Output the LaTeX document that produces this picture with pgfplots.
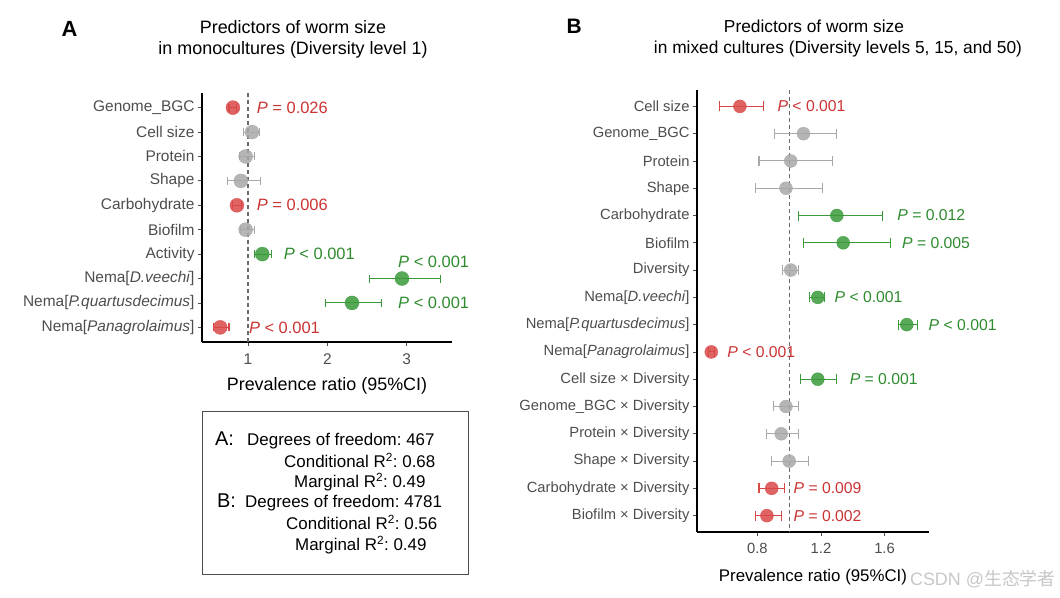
\documentclass[border=0pt]{standalone}
\usepackage{fontspec}
\setmainfont{Liberation Sans}
\newfontfamily\cjk{Noto Sans CJK SC}
\usepackage{pgfplots}
\usepackage{pgfplotstable}
\pgfplotsset{compat=1.18}
\frenchspacing

\definecolor{sigred}{HTML}{D94848}
\definecolor{sigredtxt}{HTML}{CC3333}
\definecolor{siggreen}{HTML}{3A9A3A}
\definecolor{siggreentxt}{HTML}{2E8B2E}
\definecolor{nsgrey}{HTML}{A8A8A8}
\definecolor{ticktxt}{HTML}{4D4D4D}
\definecolor{refgrey}{HTML}{6A6A6A}

% panel A: row est lo hi
\pgfplotstableread{
row est lo hi
1 0.81 0.76 0.86
5 0.86 0.80 0.92
10 0.65 0.57 0.76
}\tabAred
\pgfplotstableread{
row est lo hi
2 1.05 0.94 1.14
3 0.97 0.89 1.08
4 0.91 0.74 1.16
6 0.97 0.90 1.08
}\tabAgrey
\pgfplotstableread{
row est lo hi
7 1.18 1.08 1.30
8 2.94 2.53 3.43
9 2.31 1.98 2.68
}\tabAgreen

% panel B
\pgfplotstableread{
row est lo hi
1 0.69 0.56 0.84
10 0.51 0.49 0.53
15 0.89 0.81 0.97
16 0.86 0.79 0.95
}\tabBred
\pgfplotstableread{
row est lo hi
2 1.09 0.91 1.30
3 1.01 0.81 1.27
4 0.98 0.79 1.21
7 1.01 0.96 1.06
12 0.98 0.90 1.06
13 0.95 0.86 1.06
14 1.00 0.89 1.12
}\tabBgrey
\pgfplotstableread{
row est lo hi
5 1.30 1.06 1.59
6 1.34 1.09 1.64
8 1.18 1.13 1.22
9 1.74 1.69 1.81
11 1.18 1.07 1.30
}\tabBgreen

\pgfplotsset{
  forest/.style={
    scale only axis, clip=false,
    axis x line*=bottom, axis y line*=left,
    axis line style={black, line width=1.2bp},
    tick align=outside, major tick length=4bp,
    tick style={ticktxt, line width=0.8bp},
    y dir=reverse,
    ticklabel style={text=ticktxt},
    /pgf/number format/assume math mode=true,
    anchor=south west,
  },
  ci/.style n args={3}{color=#1, only marks, mark=*, mark size=#2,
    mark options={draw=#1, fill=#1, fill opacity=0.85, draw opacity=0.85},
    table/x=est, table/y=row,
    table/x error minus expr=\thisrow{est}-\thisrow{lo},
    table/x error plus expr=\thisrow{hi}-\thisrow{est},
    error bars/.cd, x dir=both, x explicit,
    error bar style={#1, line width=1.1bp, solid},
    error mark=|,
    error mark options={#1, line width=1.1bp, mark size=#3, draw opacity=1, rotate=0}},
  refline/.style={color=refgrey, no marks, line width=1.2bp, dash pattern=on 4bp off 3bp, forget plot},
}

\begin{document}
\begin{tikzpicture}
\path[use as bounding box] (0,0) rectangle (1060bp,598bp);

% ---------- panel A ----------
\begin{axis}[forest,
  at={(202bp,256bp)}, width=250bp, height=249bp,
  xmin=0.42, xmax=3.57, ymin=0.4, ymax=10.6,
  xtick={1,2,3}, ytick={1,...,10},
  yticklabels={Genome\_BGC, Cell size, Protein, Shape, Carbohydrate, Biofilm, Activity,
    {Nema[\textit{D.veechi}]}, {Nema[\textit{P.quartusdecimus}]}, {Nema[\textit{Panagrolaimus}]}},
  ticklabel style={font=\fontsize{15.5}{18}\selectfont},
  xticklabel style={yshift=-4bp},
  xlabel={Prevalence ratio (95\%CI)},
  xlabel style={font=\fontsize{18}{21}\selectfont, text=black, yshift=-6bp},
]
\addplot[refline] coordinates {(1,0.4) (1,10.6)};
\addplot[ci={nsgrey}{7bp}{4bp}] table {\tabAgrey};
\addplot[ci={sigred}{7bp}{4bp}] table {\tabAred};
\addplot[ci={siggreen}{7bp}{4bp}] table {\tabAgreen};
\begin{scope}[every node/.style={anchor=west, inner sep=0pt, font=\fontsize{16.5}{19}\selectfont}]
\node[text=sigredtxt] at (axis cs:1.11,1) {\textit{P} = 0.026};
\node[text=sigredtxt] at (axis cs:1.11,5) {\textit{P} = 0.006};
\node[text=siggreentxt] at (axis cs:1.45,7) {\textit{P} < 0.001};
\node[text=siggreentxt] at (axis cs:2.89,7.3) {\textit{P} < 0.001};
\node[text=siggreentxt] at (axis cs:2.89,9) {\textit{P} < 0.001};
\node[text=sigredtxt] at (axis cs:1.01,10) {\textit{P} < 0.001};
\end{scope}
\end{axis}

% ---------- panel B ----------
\begin{axis}[forest,
  at={(697bp,66bp)}, width=232bp, height=442bp,
  xmin=0.42, xmax=1.88, ymin=0.4, ymax=16.6,
  xtick={0.8,1.2,1.6}, ytick={1,...,16},
  xticklabels={0.8,1.2,1.6},
  yticklabels={Cell size, Genome\_BGC, Protein, Shape, Carbohydrate, Biofilm, Diversity,
    {Nema[\textit{D.veechi}]}, {Nema[\textit{P.quartusdecimus}]}, {Nema[\textit{Panagrolaimus}]},
    Cell size × Diversity, Genome\_BGC × Diversity, Protein × Diversity, Shape × Diversity,
    Carbohydrate × Diversity, Biofilm × Diversity},
  ticklabel style={font=\fontsize{14.8}{17}\selectfont},
  xticklabel style={yshift=-4bp},
  xlabel={Prevalence ratio (95\%CI)},
  xlabel style={font=\fontsize{16.9}{20}\selectfont, text=black, yshift=-8bp},
]
\addplot[refline] coordinates {(1,0.4) (1,16.6)};
\addplot[ci={nsgrey}{6.5bp}{5bp}] table {\tabBgrey};
\addplot[ci={sigred}{6.5bp}{5bp}] table {\tabBred};
\addplot[ci={siggreen}{6.5bp}{5bp}] table {\tabBgreen};
\begin{scope}[every node/.style={anchor=west, inner sep=0pt, font=\fontsize{15.8}{18}\selectfont}]
\node[text=sigredtxt] at (axis cs:0.926,1) {\textit{P} < 0.001};
\node[text=siggreentxt] at (axis cs:1.68,5) {\textit{P} = 0.012};
\node[text=siggreentxt] at (axis cs:1.71,6) {\textit{P} = 0.005};
\node[text=siggreentxt] at (axis cs:1.285,8) {\textit{P} < 0.001};
\node[text=siggreentxt] at (axis cs:1.877,9) {\textit{P} < 0.001};
\node[text=sigredtxt] at (axis cs:0.61,10) {\textit{P} < 0.001};
\node[text=siggreentxt] at (axis cs:1.38,11) {\textit{P} = 0.001};
\node[text=sigredtxt] at (axis cs:1.027,15) {\textit{P} = 0.009};
\node[text=sigredtxt] at (axis cs:1.027,16) {\textit{P} = 0.002};
\end{scope}
\end{axis}

% ---------- titles and panel letters ----------
\node[anchor=base west, font=\bfseries\fontsize{22}{24}\selectfont] at (58bp,561bp) {A};
\node[anchor=base west, font=\bfseries\fontsize{21}{24}\selectfont] at (563bp,564bp) {B};
\node[anchor=base, font=\fontsize{18}{21}\selectfont] at (293bp,564bp) {Predictors of worm size};
\node[anchor=base, font=\fontsize{18}{21}\selectfont] at (293bp,543bp) {in monocultures (Diversity level 1)};
\node[anchor=base, font=\fontsize{17.4}{20}\selectfont] at (814bp,565bp) {Predictors of worm size};
\node[anchor=base, font=\fontsize{17.4}{20}\selectfont] at (838bp,544bp) {in mixed cultures (Diversity levels 5, 15, and 50)};

% ---------- model statistics box ----------
\draw[color=ticktxt, line width=1bp] (202bp,23bp) rectangle (468bp,186bp);
\begin{scope}[every node/.style={anchor=base west, inner sep=0pt, font=\fontsize{17}{20}\selectfont}]
\node[font=\fontsize{20}{22}\selectfont] at (215bp,152bp) {A:};
\node at (247bp,152bp) {Degrees of freedom: 467};
\node at (284bp,130bp) {Conditional R\textsuperscript{2}: 0.68};
\node at (294bp,110bp) {Marginal R\textsuperscript{2}: 0.49};
\node[font=\fontsize{20}{22}\selectfont] at (217bp,90bp) {B:};
\node at (245bp,90bp) {Degrees of freedom: 4781};
\node at (286bp,68bp) {Conditional R\textsuperscript{2}: 0.56};
\node at (295bp,47bp) {Marginal R\textsuperscript{2}: 0.49};
\end{scope}

% watermark
\node[anchor=base east, inner sep=0pt, text=black!22, font=\fontsize{18}{20}\selectfont] at (1056bp,13bp) {CSDN @{\cjk 生态学者}};
\end{tikzpicture}
\end{document}
